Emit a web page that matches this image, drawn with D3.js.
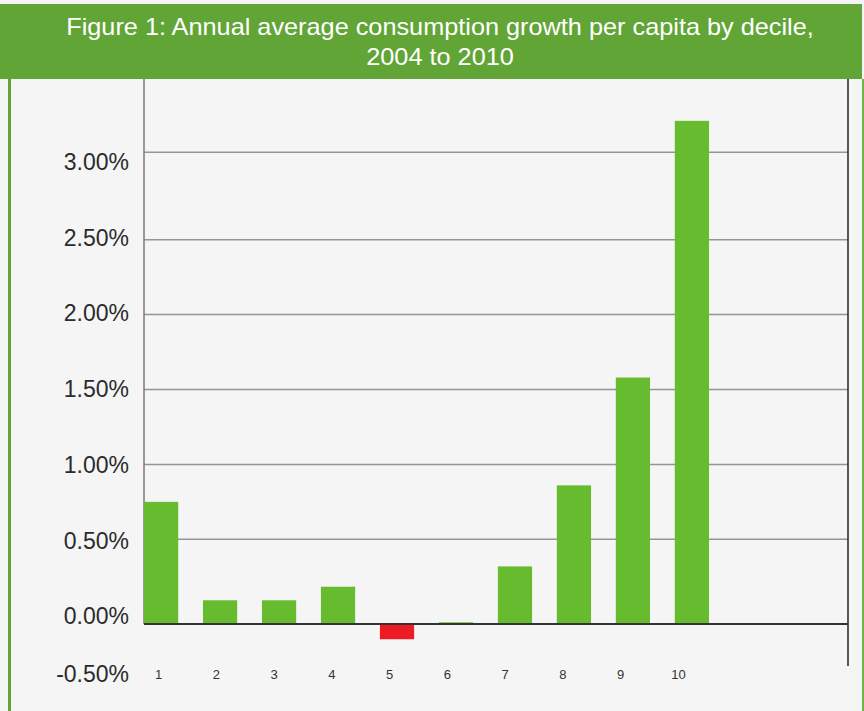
<!DOCTYPE html>
<html>
<head>
<meta charset="utf-8">
<script src="https://cdn.jsdelivr.net/npm/d3@7"></script>
<style>
body { margin: 0; background: #f5f5f5; }
svg { display: block; font-family: "Liberation Sans", Arial, sans-serif; }
</style>
</head>
<body>
<div id="chart"></div>
<script>
// Chart data.
var titleLines = ['Figure 1: Annual average consumption growth per capita by decile,', '2004 to 2010'];
var deciles = ['1', '2', '3', '4', '5', '6', '7', '8', '9', '10'];
var growth = [0.75, 0.14, 0.14, 0.22, -0.09, 0.01, 0.34, 0.86, 1.58, 3.18]; // % per year
var yTicks = [-0.5, 0, 0.5, 1, 1.5, 2, 2.5, 3];
var yTickLabels = ['-0.50%', '0.00%', '0.50%', '1.00%', '1.50%', '2.00%', '2.50%', '3.00%'];

var width = 864;
var height = 711;
var green = '#67bb2e';
var red = '#ed1c24';

var svg = d3.select('#chart')
    .append('svg')
    .attr('width', width)
    .attr('height', height);

svg.append('rect')
    .attr('width', width)
    .attr('height', height)
    .attr('fill', '#f5f5f5');

// Green header band and frame.
svg.append('rect')
    .attr('x', 0)
    .attr('y', 4)
    .attr('width', 862)
    .attr('height', 75)
    .attr('fill', '#62a537');

svg.append('line')
    .attr('x1', 9.5).attr('x2', 9.5)
    .attr('y1', 79).attr('y2', height)
    .style('stroke', '#62a537')
    .style('stroke-width', '3px');

svg.append('line')
    .attr('x1', 863).attr('x2', 863)
    .attr('y1', 79).attr('y2', height)
    .style('stroke', '#6ab84a')
    .style('stroke-width', '2px');

// Title, a bit wide in the source so stretched sideways.
svg.append('g')
    .attr('transform', 'translate(440,0) scale(1.1,1)')
    .selectAll('.title')
    .data(titleLines)
    .enter().append('text')
    .attr('class', 'title')
    .attr('x', 0)
    .attr('y', function(d, i) { return 35 + i * 30; })
    .attr('text-anchor', 'middle')
    .style('fill', '#ffffff')
    .style('font-size', '23px')
    .text(function(d) { return d; });

// Scales. The source picture is a little stretched at both ends of the
// value axis, so the scale is piecewise linear to follow its gridlines.
var x = d3.scaleBand()
    .domain(deciles)
    .range([144, 709])
    .paddingInner(0.42)
    .paddingOuter(0);

var xLabel = d3.scalePoint()
    .domain(deciles)
    .range([158, 678]);

var y = d3.scaleLinear()
    .domain([0, 0.5, 2.5, 3])
    .range([624, 539.3, 239.7, 152.3]);

// The tick labels in the source do not sit exactly on their gridlines.
var yLabel = d3.scaleLinear()
    .domain([-0.5, 0, 0.5, 2.5, 3])
    .range([674, 616, 541, 237.7, 162]);

var plotLeft = 144;
var plotRight = 848;
var plotTop = 79;

// Gridlines.
svg.selectAll('.grid')
    .data(yTicks.filter(function(d) { return d > 0; }))
    .enter().append('line')
    .attr('class', 'grid')
    .attr('x1', plotLeft)
    .attr('x2', plotRight)
    .attr('y1', function(d) { return y(d); })
    .attr('y2', function(d) { return y(d); })
    .style('stroke', '#959595')
    .style('stroke-width', '1.5px');

// Left and right plot edges.
svg.append('line')
    .attr('x1', plotLeft).attr('x2', plotLeft)
    .attr('y1', plotTop).attr('y2', y(0))
    .style('stroke', '#7a7a7a')
    .style('stroke-width', '1.5px');

svg.append('line')
    .attr('x1', plotRight).attr('x2', plotRight)
    .attr('y1', plotTop).attr('y2', 666)
    .style('stroke', '#222222')
    .style('stroke-width', '1.5px');

// Bars.
svg.selectAll('.bar')
    .data(growth)
    .enter().append('rect')
    .attr('class', 'bar')
    .attr('x', function(d, i) { return x(deciles[i]); })
    .attr('width', x.bandwidth())
    .attr('y', function(d) { return y(Math.max(0, d)); })
    .attr('height', function(d) { return Math.abs(y(d) - y(0)); })
    .style('fill', function(d) { return d < 0 ? red : green; });

// Zero line sits on top of the bars.
svg.append('line')
    .attr('x1', plotLeft)
    .attr('x2', plotRight)
    .attr('y1', y(0))
    .attr('y2', y(0))
    .style('stroke', '#333333')
    .style('stroke-width', '2px');

// Value axis labels.
var yAxis = svg.append('g')
    .attr('transform', 'translate(129,0)')
    .call(d3.axisLeft(yLabel)
        .tickValues(yTicks)
        .tickSize(0)
        .tickPadding(0)
        .tickFormat(function(d, i) { return yTickLabels[i]; }));
yAxis.select('.domain').remove();
yAxis.selectAll('text')
    .style('font-family', '"Liberation Sans", Arial, sans-serif')
    .style('font-size', '23px')
    .style('fill', '#2b2b2b');

// Decile labels.
var xAxis = svg.append('g')
    .attr('transform', 'translate(0,670)')
    .call(d3.axisBottom(xLabel)
        .tickSize(0)
        .tickPadding(0));
xAxis.select('.domain').remove();
xAxis.selectAll('text')
    .style('font-family', '"Liberation Sans", Arial, sans-serif')
    .style('font-size', '13px')
    .style('fill', '#333333');
</script>
</body>
</html>
